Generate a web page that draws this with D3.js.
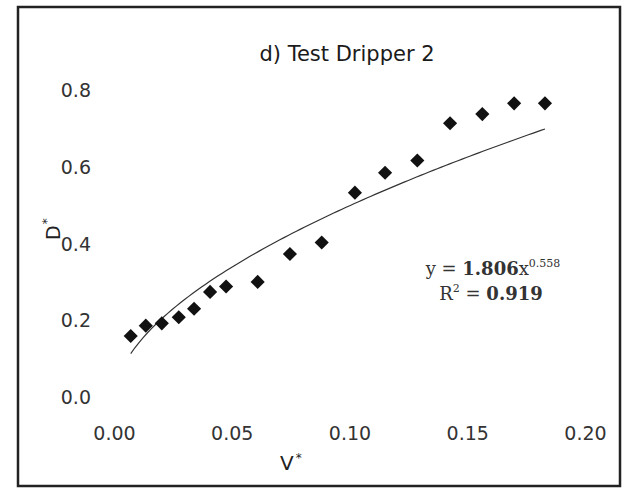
<!DOCTYPE html>
<html>
<head>
<meta charset="utf-8">
<script src="https://cdn.jsdelivr.net/npm/d3@7"></script>
<style>
  html, body { margin: 0; padding: 0; background: #fff; }
  svg { display: block; }
</style>
</head>
<body>
<svg id="chart" width="624" height="489"></svg>
<script>
// ---- data ----
const vStar = [0.0071, 0.0135, 0.0203, 0.0275, 0.0340, 0.0408, 0.0476, 0.0610, 0.0747,
               0.0882, 0.1023, 0.1151, 0.1288, 0.1427, 0.1564, 0.1699, 0.1830];
const dStar = [0.160, 0.187, 0.193, 0.209, 0.231, 0.275, 0.289, 0.301, 0.374,
               0.404, 0.534, 0.586, 0.618, 0.715, 0.739, 0.767, 0.767];
const xTicks = [0, 0.05, 0.10, 0.15, 0.20];
const yTicks = [0, 0.2, 0.4, 0.6, 0.8];
const trendA = 1.806;   // power trendline y = a * x^b (as printed on chart)
const trendB = 0.558;
const rSquared = 0.919;
const titleText = "d) Test Dripper 2";

// ---- layout ----
const svg = d3.select("#chart");
const x = d3.scaleLinear().domain([0, 0.2]).range([114, 585]);
const y = d3.scaleLinear().domain([0, 0.8]).range([397.3, 90.7]);

// outer frame
svg.append("rect")
  .attr("x", 18).attr("y", 7).attr("width", 602).attr("height", 479)
  .attr("fill", "#fff").attr("stroke", "#222").attr("stroke-width", 2.5);

// title
svg.append("text")
  .attr("x", 347).attr("y", 61)
  .attr("text-anchor", "middle")
  .attr("font-family", "DejaVu Sans, Verdana, sans-serif")
  .attr("font-size", 21).attr("fill", "#1a1a1a")
  .text(titleText);

// axes (no lines, labels only)
const xAxis = svg.append("g")
  .attr("transform", `translate(0,${y(0)})`)
  .call(d3.axisBottom(x).tickValues(xTicks).tickFormat(d3.format(".2f")).tickSize(0).tickPadding(29));
const yAxis = svg.append("g")
  .attr("transform", `translate(${x(0)},0)`)
  .call(d3.axisLeft(y).tickValues(yTicks).tickFormat(d3.format(".1f")).tickSize(0).tickPadding(23));
[xAxis, yAxis].forEach(g => {
  g.select(".domain").remove();
  g.selectAll("text")
    .attr("font-family", "DejaVu Sans, Verdana, sans-serif")
    .attr("font-size", 19).attr("fill", "#333");
});

// axis titles
const xt = svg.append("text")
  .attr("x", 280).attr("y", 470)
  .attr("font-family", "DejaVu Sans, Verdana, sans-serif")
  .attr("font-size", 20).attr("fill", "#222");
xt.append("tspan").text("V");
xt.append("tspan").attr("font-size", 12).attr("dy", -8).attr("dx", 2).text("*");

const yt = svg.append("text")
  .attr("transform", "translate(60,240) rotate(-90)")
  .attr("font-family", "DejaVu Sans, Verdana, sans-serif")
  .attr("font-size", 19).attr("fill", "#222");
yt.append("tspan").text("D");
yt.append("tspan").attr("font-size", 12).attr("dy", -9).attr("dx", 1).text("*");

// trendline from the printed equation
const xMin = d3.min(vStar), xMax = d3.max(vStar);
const trendPts = d3.range(0, 101).map(i => {
  const xv = xMin + (xMax - xMin) * i / 100;
  return [xv, trendA * Math.pow(xv, trendB)];
});
svg.append("path")
  .datum(trendPts)
  .attr("fill", "none")
  .attr("stroke", "#333")
  .attr("stroke-width", 1.2)
  .attr("d", d3.line().x(d => x(d[0])).y(d => y(d[1])));

// markers
const diamond = d3.symbol().type(d3.symbolSquare).size(100);
svg.append("g").selectAll("path")
  .data(vStar.map((v, i) => [v, dStar[i]]))
  .join("path")
  .attr("transform", d => `translate(${x(d[0])},${y(d[1])}) rotate(45)`)
  .attr("d", diamond)
  .attr("fill", "#111");

// equation text
const eq = svg.append("text")
  .attr("x", 493).attr("y", 275)
  .attr("text-anchor", "middle")
  .attr("font-family", "DejaVu Serif, Georgia, serif")
  .attr("font-size", 18).attr("fill", "#333");
eq.append("tspan").text("y = ");
eq.append("tspan").attr("font-weight", "bold").text(d3.format(".3f")(trendA));
eq.append("tspan").text("x");
eq.append("tspan").attr("font-size", 11).attr("dy", -8).text(d3.format(".3f")(trendB));

const r2 = svg.append("text")
  .attr("x", 491).attr("y", 300)
  .attr("text-anchor", "middle")
  .attr("font-family", "DejaVu Serif, Georgia, serif")
  .attr("font-size", 18).attr("fill", "#333");
r2.append("tspan").text("R");
r2.append("tspan").attr("font-size", 11).attr("dy", -8).text("2");
r2.append("tspan").attr("dy", 8).text(" = ");
r2.append("tspan").attr("font-weight", "bold").text(d3.format(".3f")(rSquared));
</script>
</body>
</html>
